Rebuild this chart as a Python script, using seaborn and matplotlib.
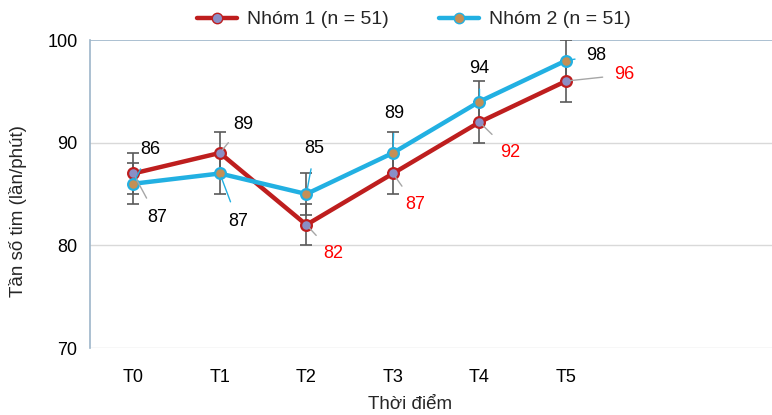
import matplotlib
matplotlib.use("Agg")
import matplotlib.pyplot as plt
import seaborn as sns
import pandas as pd

# Heart rate (beats/min) at each time point, mean and SD per group
time_points = ["T0", "T1", "T2", "T3", "T4", "T5"]
group1_name = "Nhóm 1 (n = 51)"
group2_name = "Nhóm 2 (n = 51)"
group1_mean = [87, 89, 82, 87, 92, 96]
group2_mean = [86, 87, 85, 89, 94, 98]
group1_sd = [2, 2, 2, 2, 2, 2]
group2_sd = [2, 2, 2, 2, 2, 2]

sns.set_theme(style="white")
plt.rcParams["font.family"] = ["Liberation Sans", "DejaVu Sans"]

RED = "#BE1E1E"
BLUE = "#22B0E2"
RED_FILL = "#8A8FC6"
BLUE_FILL = "#C48F55"
FRAME = "#9DB5C9"
GRID = "#D9D9D9"

df = pd.DataFrame({
    "x": list(range(len(time_points))) * 2,
    "y": group1_mean + group2_mean,
    "sd": group1_sd + group2_sd,
    "group": [group1_name] * len(time_points) + [group2_name] * len(time_points),
})

fig = plt.figure(figsize=(7.72, 4.15), dpi=100)
ax = fig.add_axes([0.1166, 0.1614, 0.8834, 0.7422])

# horizontal reference lines
for v in (70, 80, 90):
    ax.axhline(v, color=GRID, lw=1.0, zorder=0)
ax.axhline(100, color=FRAME, lw=1.2, zorder=0)

palette = {group1_name: RED, group2_name: BLUE}
fills = {group1_name: RED_FILL, group2_name: BLUE_FILL}
zs = {group1_name: 2, group2_name: 3}

for name in (group1_name, group2_name):
    sub = df[df["group"] == name]
    sns.lineplot(data=sub, x="x", y="y", color=palette[name], lw=3.2,
                 ax=ax, zorder=zs[name], legend=False)

for name in (group1_name, group2_name):
    sub = df[df["group"] == name]
    ax.errorbar(sub["x"], sub["y"], yerr=sub["sd"], fmt="none",
                ecolor="#5A5A5A", elinewidth=1.2, capsize=4, capthick=1.2,
                zorder=4)

for name in (group1_name, group2_name):
    sub = df[df["group"] == name]
    sns.scatterplot(data=sub, x="x", y="y", color=fills[name],
                    edgecolor=palette[name], linewidth=1.6, s=60,
                    ax=ax, zorder=5, legend=False)

# value labels with leader lines (offsets in points)
g1_offsets = [(17, -31.5), (17, 20.5), (19, -20.5), (16, -22.5), (22, -21.5), (42, 4.5)]
g2_offsets = [(12, 24.5), (13, -34.5), (6, 32.5), (1, 28.5), (0, 23.5), (22, 3.5)]
g1_colors = ["black", "black", "#FF0000", "#FF0000", "#FF0000", "#FF0000"]

for i, v in enumerate(group1_mean):
    ax.annotate(f"{v}", xy=(i, v), xytext=g1_offsets[i], textcoords="offset points",
                ha="center", va="center", fontsize=13, color=g1_colors[i], zorder=6,
                arrowprops=dict(arrowstyle="-", color="#A6A6A6", lw=1.0,
                                shrinkA=6, shrinkB=3))
for i, v in enumerate(group2_mean):
    ax.annotate(f"{v}", xy=(i, v), xytext=g2_offsets[i], textcoords="offset points",
                ha="center", va="center", fontsize=13, color="black", zorder=6,
                arrowprops=dict(arrowstyle="-", color=BLUE, lw=1.0,
                                shrinkA=6, shrinkB=3))

ax.set_xlim(-0.5, 7.38)
ax.set_ylim(70, 100)
ax.set_yticks([70, 80, 90, 100])
ax.set_xticks(range(len(time_points)))
ax.set_xticklabels(time_points)
ax.tick_params(axis="x", length=0, pad=15, labelsize=13, colors="black")
ax.tick_params(axis="y", length=0, pad=9, labelsize=13, colors="black")

for side in ("top", "right", "bottom"):
    ax.spines[side].set_visible(False)
ax.spines["left"].set_color(FRAME)
ax.spines["left"].set_linewidth(1.2)

ax.set_xlabel("Thời điểm", fontsize=13.5)
ax.xaxis.set_label_coords(0.469, -0.155)
ax.set_ylabel("Tần số tim (lần/phút)", fontsize=13.5)
ax.yaxis.set_label_coords(-0.092, 0.446)

handles = [
    matplotlib.lines.Line2D([], [], color=RED, lw=3.2, marker="o", markersize=7.5,
                            markerfacecolor=RED_FILL, markeredgecolor=RED),
    matplotlib.lines.Line2D([], [], color=BLUE, lw=3.2, marker="o", markersize=7.5,
                            markerfacecolor=BLUE_FILL, markeredgecolor=BLUE),
]
fig.legend(handles, [group1_name, group2_name], loc="center",
           bbox_to_anchor=(0.536, 0.953), ncol=2, frameon=False, fontsize=14,
           handlelength=2.06, columnspacing=2.6, handletextpad=0.5)

fig.savefig("out.png", dpi=100)
